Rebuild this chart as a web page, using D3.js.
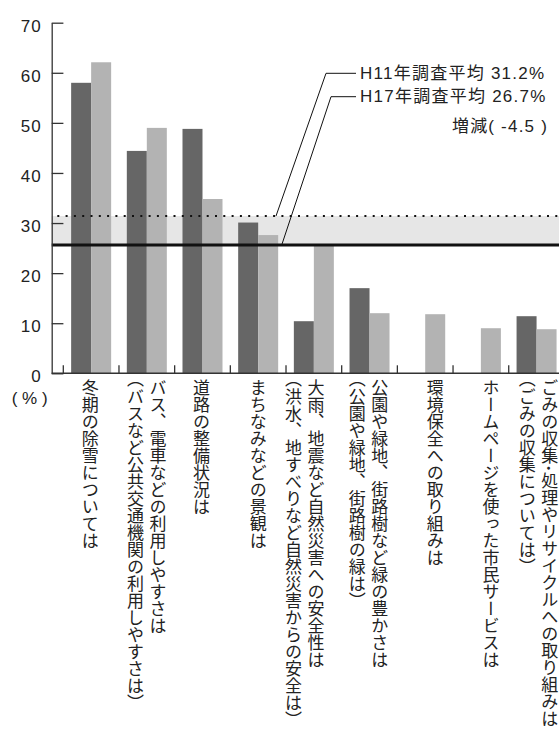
<!DOCTYPE html>
<html>
<head>
<meta charset="utf-8">
<script src="https://d3js.org/d3.v7.min.js"></script>
<style>
body { margin:0; background:#fff; }
svg text { fill:#222; font-family:"Liberation Sans","Noto Sans CJK JP",sans-serif; }
.vlabel { font-family:"Noto Sans CJK JP",sans-serif; writing-mode:vertical-rl; }
.half { font-feature-settings:"vhal" 1; }
</style>
</head>
<body>
<svg id="viz" width="559" height="730"></svg>
<script>
// category labels (one entry per column of vertical text)
var categories = [
	["冬期の除雪については"],
	["バス、電車などの利用しやすさは", "（バスなど公共交通機関の利用しやすさは）"],
	["道路の整備状況は"],
	["まちなみなどの景観は"],
	["大雨、地震など自然災害への安全性は", "（洪水、地すべりなど自然災害からの安全は）"],
	["公園や緑地、街路樹など緑の豊かさは", "（公園や緑地、街路樹の緑は）"],
	["環境保全への取り組みは"],
	["ホームページを使った市民サービスは"],
	["ごみの収集･処理やリサイクルへの取り組みは", "（ごみの収集については）"]
];
var h11 = [58.0, 44.4, 48.8, 30.1, 10.4, 17.0, null, null, 11.4];
var h17 = [62.1, 49.0, 34.8, 27.6, 25.7, 12.0, 11.8, 9.0, 8.8];
var yTicks = [0, 10, 20, 30, 40, 50, 60, 70];
var avgLabels = ["H11年調査平均 31.2%", "H17年調査平均 26.7%"];
var avgLevels = [31.4, 25.6];   // where the two average lines sit in the picture
var diffLabel = "増減( -4.5 )";

// small per-category nudges of the vertical labels
var labelDx = [-1, 0, -1, 0, -9, -1, 10, 10, 2];

var svg = d3.select("#viz");
var keys = categories.map(function (d, i) { return i; });
var xScale = d3.scaleBand().domain(keys).range([63.3, 564.4]);
var yScale = d3.scaleLinear().domain([0, 70]).range([373.3, 22.7]);
var subScale = d3.scaleBand().domain(["h11", "h17"]).range([-20, 20]);
var axisX = 51.7, right = 559;

// shaded band between the two averages
svg.append("rect")
	.attr("x", axisX).attr("width", right - axisX)
	.attr("y", yScale(avgLevels[0]))
	.attr("height", yScale(avgLevels[1]) - yScale(avgLevels[0]))
	.attr("fill", "#e6e6e6");

// bars
var rows = keys.map(function (i) { return {i: i, h11: h11[i], h17: h17[i]}; });
var groups = svg.selectAll(".cat").data(rows).enter().append("g")
	.attr("class", "cat")
	.attr("transform", function (d) { return "translate(" + (xScale(d.i) + xScale.bandwidth() / 2) + ",0)"; });
[["h11", "#666666"], ["h17", "#b3b3b3"]].forEach(function (s) {
	groups.filter(function (d) { return d[s[0]] != null; }).append("rect")
		.attr("x", subScale(s[0])).attr("width", subScale.bandwidth())
		.attr("y", function (d) { return yScale(d[s[0]]); })
		.attr("height", function (d) { return yScale(0) - yScale(d[s[0]]); })
		.attr("fill", s[1]);
});

// average lines
svg.append("line").attr("x1", axisX).attr("x2", right)
	.attr("y1", yScale(avgLevels[1])).attr("y2", yScale(avgLevels[1]))
	.attr("stroke", "#111").attr("stroke-width", 3);
svg.append("line").attr("x1", 57.3).attr("x2", right)
	.attr("y1", yScale(avgLevels[0])).attr("y2", yScale(avgLevels[0]))
	.attr("stroke", "#111").attr("stroke-width", 2).attr("stroke-dasharray", "2,6.3");

// y axis
var yAxis = d3.axisLeft(yScale).tickValues(yTicks).tickSizeInner(-11.7).tickSizeOuter(0).tickPadding(10);
var yg = svg.append("g").attr("transform", "translate(" + axisX + ",0)").call(yAxis);
yg.selectAll("path,line").attr("stroke", "#333").attr("stroke-width", 1.3);
yg.selectAll("text").attr("dy", "0.5em").style("font-size", "17px").style("letter-spacing", "1px")
	.style("font-family", "'Liberation Sans',sans-serif");

// x axis line and boundary ticks
svg.append("line").attr("x1", axisX).attr("x2", right)
	.attr("y1", yScale(0)).attr("y2", yScale(0))
	.attr("stroke", "#333").attr("stroke-width", 1.5);
svg.selectAll(".xtick").data(keys).enter().append("line")
	.attr("class", "xtick")
	.attr("x1", function (d) { return xScale(d); }).attr("x2", function (d) { return xScale(d); })
	.attr("y1", yScale(0)).attr("y2", yScale(0) - 8)
	.attr("stroke", "#333").attr("stroke-width", 1.3);

svg.append("text").text("( % )").attr("x", 11.7).attr("y", 404).style("font-size", "17px");

// vertical category labels; parentheses set half width
groups.each(function (d) {
	var lines = categories[d.i];
	var n = lines.length;
	d3.select(this).selectAll(".vlabel").data(lines).enter().append("text")
		.attr("class", "vlabel")
		.attr("x", function (t, j) { return labelDx[d.i] + ((n - 1) / 2 - j) * 22.5; })
		.attr("y", 379)
		.style("font-size", "17px")
		.each(function (t) {
			var el = d3.select(this);
			t.split(/([（）])/).filter(function (s) { return s.length; }).forEach(function (s) {
				el.append("tspan").attr("class", /[（）]/.test(s) ? "half" : null).text(s);
			});
		});
});

// leaders and annotation
var leaders = [[326, 73.3, 276], [331, 96.7, 281.7]];
leaders.forEach(function (l, i) {
	svg.append("path")
		.attr("d", "M356," + l[1] + "H" + l[0] + "L" + l[2] + "," + yScale(avgLevels[i]))
		.attr("fill", "none").attr("stroke", "#111").attr("stroke-width", 1);
	svg.append("text").text(avgLabels[i]).attr("x", 360).attr("y", l[1] + 5.3)
		.style("font-size", "17px").style("letter-spacing", "1.25px");
});
svg.append("text").text(diffLabel).attr("x", 548).attr("y", 131.5)
	.attr("text-anchor", "end").style("font-size", "17px").style("letter-spacing", "1.2px");
</script>
</body>
</html>
